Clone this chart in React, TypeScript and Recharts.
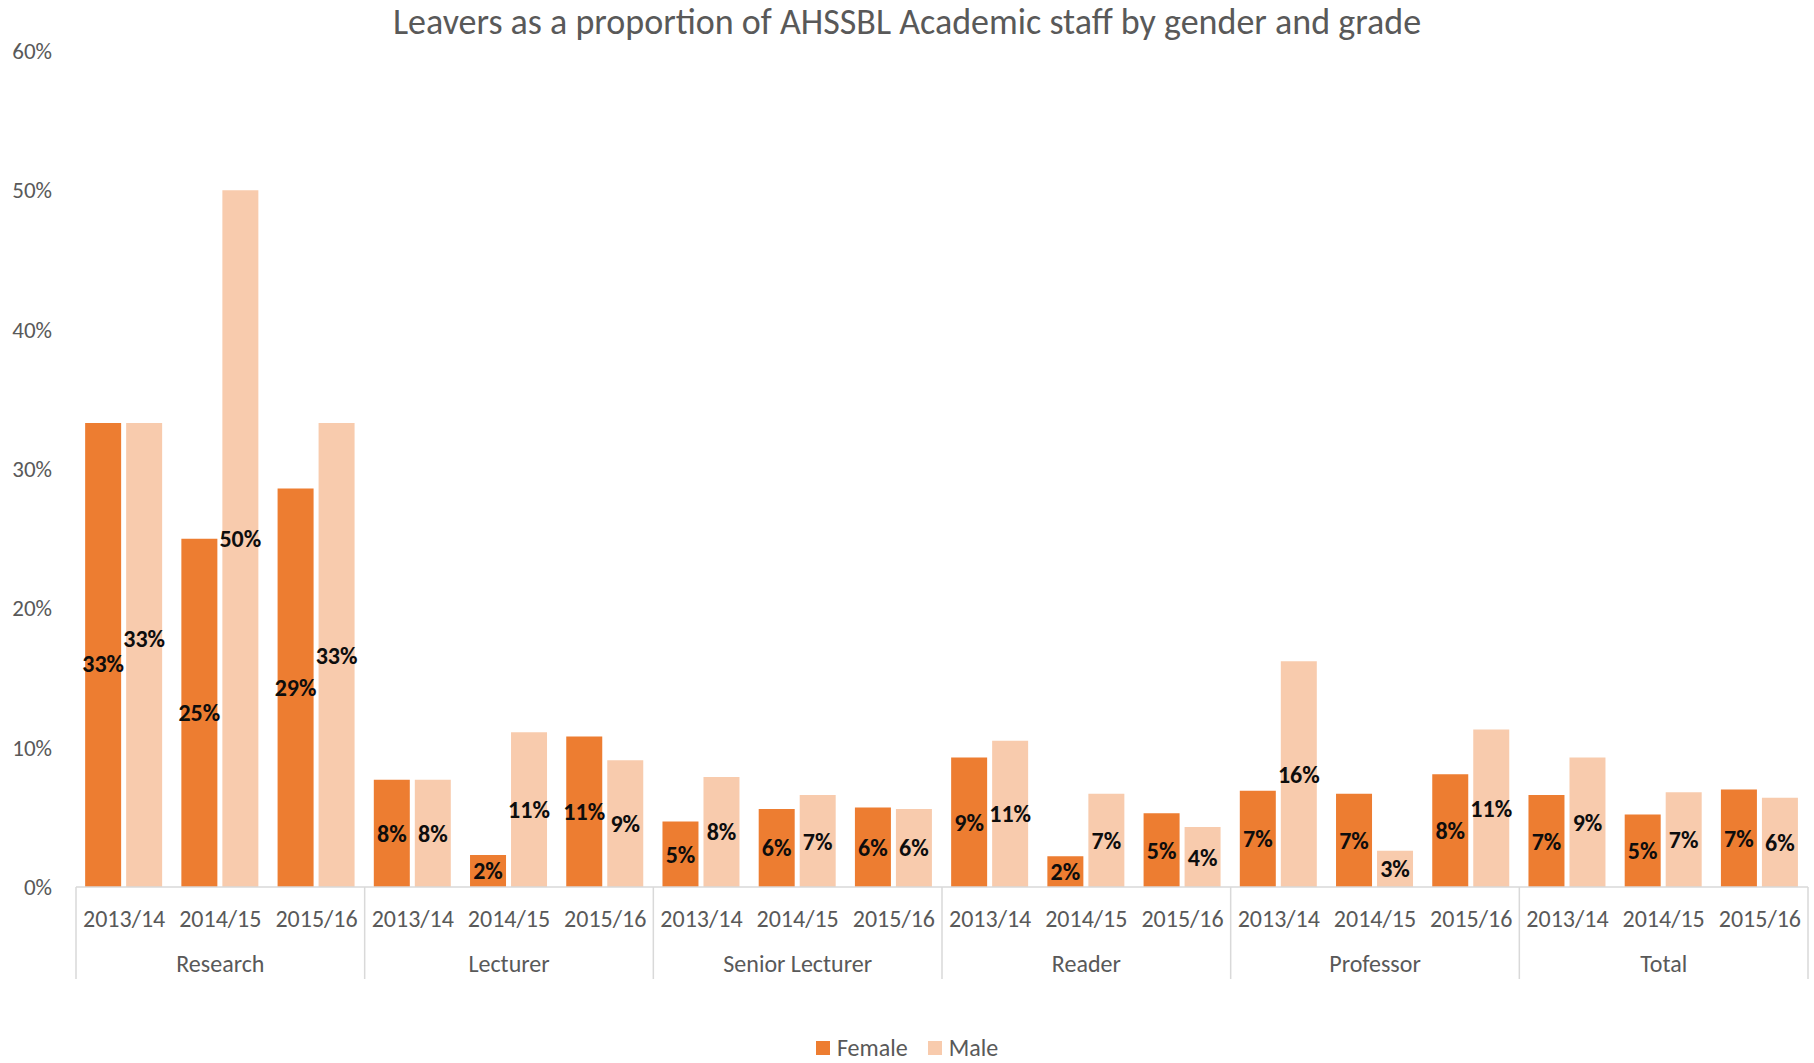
import React from "react";
import { BarChart, Bar, XAxis, YAxis, LabelList } from "recharts";

// leavers as share of academic staff
const grades = ["Research", "Lecturer", "Senior Lecturer", "Reader", "Professor", "Total"];
const years = ["2013/14", "2014/15", "2015/16"];
const female = [
  0.333, 0.25, 0.286,
  0.077, 0.023, 0.108,
  0.047, 0.056, 0.057,
  0.093, 0.022, 0.053,
  0.069, 0.067, 0.081,
  0.066, 0.052, 0.07,
];
const male = [
  0.333, 0.5, 0.333,
  0.077, 0.111, 0.091,
  0.079, 0.066, 0.056,
  0.105, 0.067, 0.043,
  0.162, 0.026, 0.113,
  0.093, 0.068, 0.064,
];
const yTicks = [0, 0.1, 0.2, 0.3, 0.4, 0.5, 0.6];

const data = grades.flatMap((grade, g) =>
  years.map((year, i) => ({
    grade,
    year,
    female: female[g * 3 + i],
    male: male[g * 3 + i],
  }))
);

const FONT = "Carlito, Calibri, Lato, sans-serif";
const GREY = "#595959";
const ORANGE = "#ED7D31";
const PEACH = "#F8CBAD";

const W = 1814;
const H = 1063;
const margin = { top: 51, right: 6, left: 10, bottom: 76 };
const yWidth = 66;
const bandHalf = (W - margin.left - margin.right - yWidth) / data.length / 2;

const pct = (v: number) => `${Math.round(v * 100)}%`;

const CategoryTick = (props: any) => {
  const { x, y, index } = props;
  const row = data[index];
  if (!row) return null;
  const half = props.payload?.offset || bandHalf;
  return (
    <g>
      <text
        x={x}
        y={y + 31}
        textAnchor="middle"
        dominantBaseline="central"
        fill={GREY}
        fontSize={24}
        fontFamily={FONT}
      >
        {row.year}
      </text>
      {index % 3 === 1 && (
        <text
          x={x}
          y={y + 76}
          textAnchor="middle"
          dominantBaseline="central"
          fill={GREY}
          fontSize={24}
          fontFamily={FONT}
        >
          {row.grade}
        </text>
      )}
      {index % 3 === 0 && (
        <line x1={x - half} x2={x - half} y1={y} y2={y + 92} stroke="#D9D9D9" strokeWidth={1.5} />
      )}
      {index === data.length - 1 && (
        <line x1={x + half} x2={x + half} y1={y} y2={y + 92} stroke="#D9D9D9" strokeWidth={1.5} />
      )}
    </g>
  );
};

// centred value label; when both labels of a pair are wide and equal they are nudged apart like Excel does
const makeLabel = (series: "female" | "male") => (props: any) => {
  const { x, y, width, height, value, index } = props;
  const row = data[index];
  let dy = 0;
  if (row && pct(row.female) === pct(row.male) && row.female >= 0.1) {
    dy = series === "female" ? 8 : -17;
  }
  return (
    <text
      x={x + width / 2}
      y={y + height / 2 + dy}
      textAnchor="middle"
      dominantBaseline="central"
      fill="#0D0D0D"
      fontSize={24}
      fontWeight={700}
      fontFamily={FONT}
    >
      {pct(Number(value))}
    </text>
  );
};

export default function App() {
  return (
    <div style={{ position: "absolute", left: 0, top: 0, width: W, height: H, background: "#fff" }}>
      <div
        style={{
          position: "absolute",
          top: 0,
          left: 0,
          width: W,
          textAlign: "center",
          fontFamily: FONT,
          fontSize: 36,
          color: GREY,
        }}
      >
        Leavers as a proportion of AHSSBL Academic staff by gender and grade
      </div>
      <BarChart
        width={W}
        height={H}
        data={data}
        margin={margin}
        barCategoryGap="9.5%"
        barGap={5}
      >
        <XAxis
          dataKey="year"
          interval={0}
          height={100}
          tickLine={false}
          tickSize={0}
          tickMargin={0}
          axisLine={{ stroke: "#D9D9D9", strokeWidth: 1.5 }}
          tick={<CategoryTick />}
        />
        <YAxis
          width={yWidth}
          domain={[0, 0.6]}
          ticks={yTicks}
          tickFormatter={pct}
          axisLine={false}
          tickLine={false}
          tickMargin={18}
          tick={{ fill: GREY, fontSize: 23, fontFamily: FONT }}
        />
        <Bar dataKey="female" name="Female" fill={ORANGE} isAnimationActive={false}>
          <LabelList dataKey="female" content={makeLabel("female")} />
        </Bar>
        <Bar dataKey="male" name="Male" fill={PEACH} isAnimationActive={false}>
          <LabelList dataKey="male" content={makeLabel("male")} />
        </Bar>
      </BarChart>
      <div
        style={{
          position: "absolute",
          top: 1033,
          left: 0,
          width: W,
          display: "flex",
          justifyContent: "center",
          alignItems: "center",
          gap: 20,
          fontFamily: FONT,
          fontSize: 24,
          color: GREY,
        }}
      >
        <span style={{ display: "flex", alignItems: "center", gap: 7 }}>
          <span style={{ width: 14, height: 14, background: ORANGE, display: "inline-block" }} />
          Female
        </span>
        <span style={{ display: "flex", alignItems: "center", gap: 7 }}>
          <span style={{ width: 14, height: 14, background: PEACH, display: "inline-block" }} />
          Male
        </span>
      </div>
    </div>
  );
}
